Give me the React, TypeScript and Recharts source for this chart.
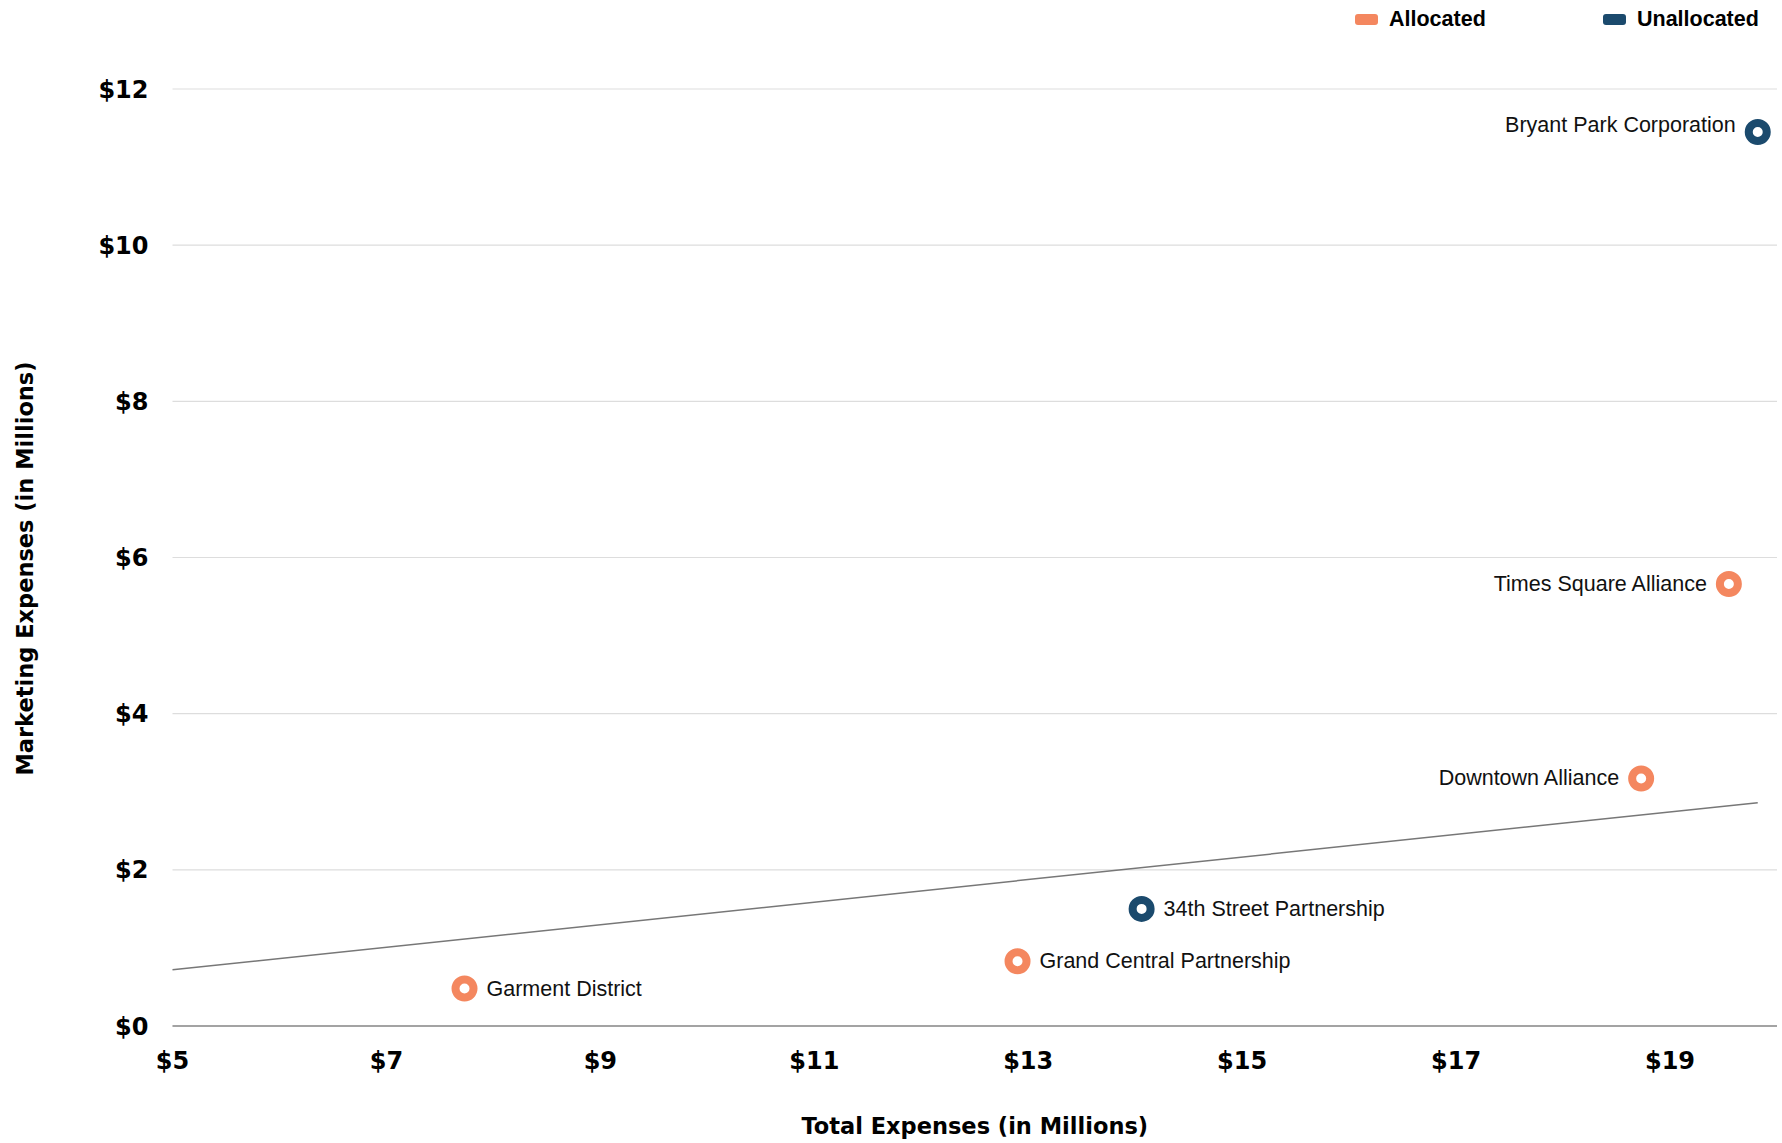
import React from "react";
import { ScatterChart, Scatter, XAxis, YAxis, CartesianGrid } from "recharts";

const allocatedNames = ["Times Square Alliance", "Downtown Alliance", "Grand Central Partnership", "Garment District"];
const allocatedTotal = [19.55, 18.73, 12.9, 7.73];
const allocatedMarketing = [5.66, 3.17, 0.83, 0.48];

const unallocatedNames = ["Bryant Park Corporation", "34th Street Partnership"];
const unallocatedTotal = [19.82, 14.06];
const unallocatedMarketing = [11.45, 1.5];

const trendTotal = [5, 19.82];
const trendMarketing = [0.72, 2.86];

const xTicks = [5, 7, 9, 11, 13, 15, 17, 19];
const yTicks = [0, 2, 4, 6, 8, 10, 12];

const ORANGE = "#f4875f";
const NAVY = "#1b4a6d";
const FONT = "'Liberation Sans', Arial, Helvetica, sans-serif";
const BOLD_FONT = "'DejaVu Sans', 'Liberation Sans', Arial, sans-serif";

const allocated = allocatedNames.map((name, i) => ({ name, x: allocatedTotal[i], y: allocatedMarketing[i] }));
const unallocated = unallocatedNames.map((name, i) => ({ name, x: unallocatedTotal[i], y: unallocatedMarketing[i] }));
const trend = trendTotal.map((x, i) => ({ x, y: trendMarketing[i] }));

function ringShape(color: string) {
  return (props: any) => {
    const { cx, cy, payload } = props;
    const left = payload.x > 17;
    const dy = payload.name === "Bryant Park Corporation" ? -7 : 0;
    return (
      <g>
        <circle cx={cx} cy={cy} r={9} fill="#fff" stroke={color} strokeWidth={8} />
        <text
          x={left ? cx - 22 : cx + 22}
          y={cy + dy}
          textAnchor={left ? "end" : "start"}
          dominantBaseline="central"
          fontFamily={FONT}
          fontSize={21.5}
          fill="#111"
        >
          {payload.name}
        </text>
      </g>
    );
  };
}

function YTitle(props: any) {
  const { viewBox } = props;
  const cx = viewBox.x + 25;
  const cy = viewBox.y + viewBox.height / 2 + 11;
  return (
    <text
      x={cx}
      y={cy}
      transform={`rotate(-90, ${cx}, ${cy})`}
      textAnchor="middle"
      dominantBaseline="central"
      fontFamily={BOLD_FONT}
      fontWeight="bold"
      fontSize={22.5}
      fill="#000"
    >
      Marketing Expenses (in Millions)
    </text>
  );
}

function XTitle(props: any) {
  const { viewBox } = props;
  return (
    <text
      x={viewBox.x + viewBox.width / 2}
      y={1126}
      textAnchor="middle"
      dominantBaseline="central"
      fontFamily={BOLD_FONT}
      fontWeight="bold"
      fontSize={22.5}
      fill="#000"
    >
      Total Expenses (in Millions)
    </text>
  );
}

function LegendItem({ label, color, x }: { label: string; color: string; x: number }) {
  return (
    <div style={{ position: "absolute", left: x, top: 6, display: "flex", alignItems: "center", height: 27 }}>
      <div style={{ width: 23, height: 11, background: color, borderRadius: 3, marginRight: 11 }} />
      <span style={{ fontFamily: FONT, fontWeight: "bold", fontSize: 21.5, color: "#000" }}>{label}</span>
    </div>
  );
}

export default function App() {
  const tickStyle = { fill: "#000", fontSize: 24, fontWeight: "bold", fontFamily: BOLD_FONT };
  return (
    <div style={{ position: "absolute", left: 0, top: 0, width: 1782, height: 1143, background: "#fff" }}>
      <ScatterChart width={1782} height={1143} margin={{ top: 89, right: 5, bottom: 0, left: 0 }}>
        <CartesianGrid vertical={false} stroke="#dddddd" strokeWidth={1.2} />
        <XAxis
          type="number"
          dataKey="x"
          domain={[5, 20]}
          ticks={xTicks}
          tickFormatter={(v: number) => `$${v}`}
          height={117}
          tickSize={0}
          tickMargin={26}
          tick={tickStyle}
          axisLine={{ stroke: "#8a8a8a", strokeWidth: 1.5 }}
          tickLine={false}
          interval={0}
          label={<XTitle />}
        />
        <YAxis
          type="number"
          dataKey="y"
          domain={[0, 12]}
          ticks={yTicks}
          tickFormatter={(v: number) => `$${v}`}
          width={172.5}
          tickSize={0}
          tickMargin={24}
          tick={tickStyle}
          axisLine={false}
          tickLine={false}
          interval={0}
          label={<YTitle />}
        />
        <Scatter
          data={trend}
          line={{ stroke: "#777", strokeWidth: 1.5 }}
          shape={() => <g />}
          isAnimationActive={false}
        />
        <Scatter data={allocated} shape={ringShape(ORANGE)} isAnimationActive={false} />
        <Scatter data={unallocated} shape={ringShape(NAVY)} isAnimationActive={false} />
      </ScatterChart>
      <LegendItem label="Allocated" color={ORANGE} x={1355} />
      <LegendItem label="Unallocated" color={NAVY} x={1603} />
    </div>
  );
}
